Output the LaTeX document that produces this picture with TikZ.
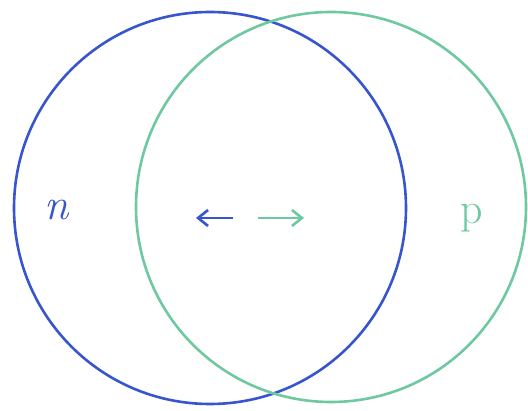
\documentclass[tikz,border=0pt]{standalone}
\usepackage{tikz}
\usetikzlibrary{arrows.meta, positioning}
\definecolor{SetBlue}{RGB}{55,85,205}
\definecolor{SetGreen}{RGB}{110,200,160}

\begin{document}
\begin{tikzpicture}[x=1pt, y=-1pt,
    setline/.style={line width=2.6pt},
    setlabel/.style={font=\fontsize{44}{44}\selectfont, inner sep=0pt},
    dirarrow/.style={line width=2.6pt, -{Straight Barb[length=10pt, width=16pt]}}]
  \useasboundingbox (0,0) rectangle (528,411);
  % the two sets
  \draw[setline, draw=SetBlue] (210,208) circle[radius=196];
  \draw[setline, draw=SetGreen] (331,207) circle[radius=195];
  % labels
  \node[setlabel, text=SetBlue] (n) at (57,210) {\itshape n};
  \node[setlabel, text=SetGreen] (p) at (472,218) {p};
  % arrows in the overlap
  \coordinate (mid) at (245,218);
  \coordinate (leftend) at (196,218);
  \coordinate (rightend) at (304,218);
  \draw[dirarrow, draw=SetBlue] ([xshift=-12pt]mid) -- (leftend);
  \draw[dirarrow, draw=SetGreen] ([xshift=13pt]mid) -- (rightend);
\end{tikzpicture}
\end{document}
